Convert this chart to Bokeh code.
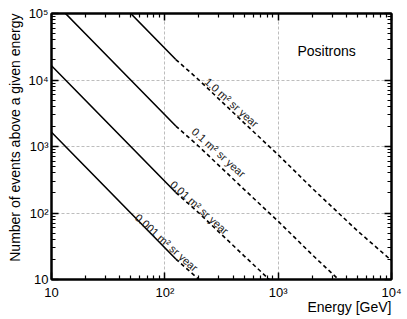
from bokeh.plotting import figure
from bokeh.models import FixedTicker, LogAxis, Label, Title
from bokeh.embed import file_html
from bokeh.resources import INLINE
from bokeh.core.properties import value

# ---- data ----
energy_solid = [10, 20, 50, 125]
energy_dashed = [125, 200, 500, 1000, 2000, 5000, 10000]

events_1p0_solid = [1.64e6, 4.92e5, 1.0e5, 2.03e4]
events_1p0_dashed = [2.03e4, 1.0e4, 2270, 750, 235, 54, 19.3]
events_0p1_solid = [1.64e5, 4.92e4, 1.0e4, 2030]
events_0p1_dashed = [2030, 1000, 227, 75, 23.5, 5.4, 1.93]
events_0p01_solid = [1.64e4, 4920, 1000, 203]
events_0p01_dashed = [203, 100, 22.7, 7.5, 2.35, 0.54, 0.193]
events_0p001_solid = [1640, 492, 100, 20.3]
events_0p001_dashed = [20.3, 10, 2.27, 0.75, 0.235, 0.054, 0.0193]

exposure_labels = ["1.0 m² sr year", "0.1 m² sr year", "0.01 m² sr year", "0.001 m² sr year"]
label_energy = [388, 298, 202, 103.5]
label_events = [4610, 815, 121, 36]

x_ticks = [10, 100, 1000, 10000]
x_tick_labels = ["10", "10²", "10³", "10⁴"]
x_minor = [20, 30, 40, 50, 60, 70, 80, 90,
           200, 300, 400, 500, 600, 700, 800, 900,
           2000, 3000, 4000, 5000, 6000, 7000, 8000, 9000]
y_ticks = [10, 100, 1000, 10000, 100000]
y_tick_labels = ["10", "10²", "10³", "10⁴", "10⁵"]
y_minor = [20, 30, 40, 50, 60, 70, 80, 90,
           200, 300, 400, 500, 600, 700, 800, 900,
           2000, 3000, 4000, 5000, 6000, 7000, 8000, 9000,
           20000, 30000, 40000, 50000, 60000, 70000, 80000, 90000]

FONT = "Liberation Sans"

p = figure(frame_width=340, frame_height=266,
           x_axis_type="log", y_axis_type="log",
           x_range=(10, 1e4), y_range=(10, 1e5),
           output_backend="svg", toolbar_location=None,
           min_border_left=51, min_border_right=16,
           min_border_top=13, min_border_bottom=36)
p.background_fill_color = "white"
p.border_fill_color = "white"
p.outline_line_color = "black"
p.outline_line_width = 2

xt = FixedTicker(ticks=x_ticks, minor_ticks=x_minor)
yt = FixedTicker(ticks=y_ticks, minor_ticks=y_minor)


def style_axis(ax, show_labels=True):
    ax.axis_line_color = "black"
    ax.axis_line_width = 2
    ax.major_tick_in = 7
    ax.major_tick_out = 0
    ax.minor_tick_in = 4
    ax.minor_tick_out = 0
    ax.major_tick_line_color = "black"
    ax.minor_tick_line_color = "black"
    ax.major_tick_line_width = 1.5
    ax.minor_tick_line_width = 1.2
    ax.major_label_text_font = FONT
    ax.major_label_text_color = "black"
    if show_labels:
        ax.major_label_text_font_size = "13px"
    else:
        ax.major_label_text_font_size = "1px"
        ax.major_label_text_alpha = 0
        ax.major_label_standoff = 0


xa = p.xaxis[0]
xa.ticker = xt
xa.major_label_overrides = {t: s for t, s in zip(x_ticks, x_tick_labels)}
style_axis(xa)
xa.major_label_standoff = 5

ya = p.yaxis[0]
ya.ticker = yt
ya.major_label_overrides = {t: s for t, s in zip(y_ticks, y_tick_labels)}
style_axis(ya)
ya.major_label_standoff = 3

top = LogAxis(ticker=FixedTicker(ticks=x_ticks, minor_ticks=x_minor))
style_axis(top, show_labels=False)
p.add_layout(top, "above")
right = LogAxis(ticker=FixedTicker(ticks=y_ticks, minor_ticks=y_minor))
style_axis(right, show_labels=False)
p.add_layout(right, "right")

for g in (p.xgrid[0], p.ygrid[0]):
    g.grid_line_color = "#bdbdbd"
    g.grid_line_dash = "3 2"
    g.grid_line_width = 1
p.xgrid[0].ticker = xt
p.ygrid[0].ticker = yt

solid_sets = [events_1p0_solid, events_0p1_solid, events_0p01_solid, events_0p001_solid]
dashed_sets = [events_1p0_dashed, events_0p1_dashed, events_0p01_dashed, events_0p001_dashed]
for s, d in zip(solid_sets, dashed_sets):
    p.line(energy_solid, s, line_color="black", line_width=1.6)
    p.line(energy_dashed, d, line_color="black", line_width=1.6, line_dash="4 3")

p.text(x=label_energy, y=label_events, text=exposure_labels,
       angle=-42, angle_units="deg",
       text_align="center", text_baseline="middle",
       text_font=value(FONT), text_font_size="11px", text_color="#222222")

p.add_layout(Label(x=1480, y=27000, text="Positrons", text_font=FONT,
                   text_font_size="14px", text_color="black",
                   text_align="left", text_baseline="middle"))

p.add_layout(Title(text="Energy [GeV]", align="right", text_font=FONT,
                   text_font_size="14px", text_font_style="normal",
                   text_color="black", standoff=-12), "below")
p.add_layout(Title(text="Number of events above a given energy", align="right",
                   text_font=FONT, text_font_size="14px",
                   text_font_style="normal", text_color="black",
                   standoff=6), "left")

open("out.html", "w").write(file_html(p, INLINE))
